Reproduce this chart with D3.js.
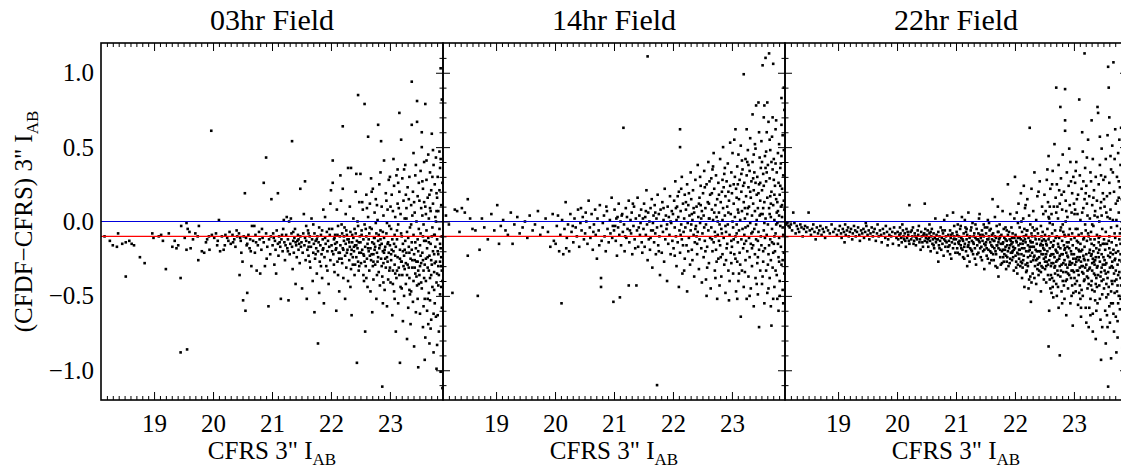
<!DOCTYPE html>
<html>
  <head>
    <meta charset="utf-8">
    <title>CFDF - CFRS 3" photometry</title>
    <style>
    body {
        margin: 0px;
        overflow: hidden;
        background: white;
    }

    text {
        font-family: 'Liberation Serif', 'Times New Roman', Times, serif;
        fill: black;
    }

    .tick text {
        font-size: 25px;
    }

    .tick line {
        stroke: black;
        stroke-width: 1;
    }

    .axis-label {
        font-size: 25px;
    }

    .title {
        font-size: 30px;
    }
    </style>
    <script src="https://d3js.org/d3.v7.min.js"></script>
  </head>
  <body>

    <svg width="1121" height="471"></svg>

    <script>
        // panel titles and tick labels
        const fieldNames = ['03hr Field', '14hr Field', '22hr Field'];
        const xTickValues = [19, 20, 21, 22, 23];
        const yTickValues = [-1.0, -0.5, 0.0, 0.5, 1.0];
        const zeroLevel = 0.0;
        const offsetLevel = -0.1;

        // [CFRS 3" I_AB, CFDF - CFRS]
        const field03 = [
            [18.16,-0.10],[18.25,-0.13],[18.39,-0.08],[18.37,-0.17],[18.46,-0.15],[18.52,-0.14],[18.52,-0.37],[18.58,-0.13],[18.66,-0.16],[18.76,-0.24],[18.84,-0.28],[18.97,-0.08],[18.99,-0.11],[18.30,-0.16],[18.62,-0.15],
            [19.08,-0.10],[19.12,-0.09],[19.20,-0.32],[19.25,-0.08],[19.31,-0.17],[19.38,-0.18],[19.41,-0.16],[19.45,-0.38],[19.45,-0.88],[19.56,-0.86],[19.46,-0.03],[19.55,-0.01],[19.57,-0.05],[19.60,-0.07],[19.55,-0.19],[19.62,-0.18],[19.70,-0.08],[19.74,-0.10],[19.76,-0.03],[19.75,-0.26],[19.81,-0.20],[19.85,-0.21],[19.90,-0.12],[19.93,-0.10],[19.97,0.61],[19.98,-0.09],[19.88,-0.14],[19.66,-0.12],[19.52,-0.11],[19.35,-0.13],[19.15,-0.13],[19.94,-0.19],
            [20.02,-0.11],[20.05,-0.08],[20.08,-0.13],[20.10,0.01],[20.12,-0.20],[20.15,-0.10],[20.18,-0.19],[20.21,-0.09],[20.24,-0.11],[20.28,-0.07],[20.30,-0.15],[20.33,-0.09],[20.36,-0.12],[20.38,-0.17],[20.41,-0.10],[20.44,-0.08],[20.45,-0.36],[20.47,-0.13],[20.48,-0.21],[20.20,-0.16],[20.26,-0.13],[20.40,-0.06],[20.07,-0.16],[20.34,-0.14],[20.46,-0.11],
            [20.50,-0.27],[20.51,-0.53],[20.54,0.19],[20.55,-0.60],[20.58,-0.48],[20.52,-0.10],[20.56,-0.11],[20.58,-0.15],[20.60,-0.09],[20.62,-0.18],[20.63,-0.12],[20.65,-0.30],[20.66,-0.03],[20.68,-0.13],[20.70,-0.03],[20.71,-0.21],[20.72,-0.09],[20.74,-0.33],[20.76,-0.16],[20.78,-0.07],[20.79,-0.12],[20.80,-0.35],[20.82,-0.19],[20.84,-0.11],[20.86,0.26],[20.86,-0.14],[20.88,-0.30],[20.90,0.43],[20.90,-0.08],[20.92,-0.17],[20.94,-0.57],[20.95,-0.12],[20.97,-0.22],[20.98,-0.10],[20.99,0.15],[20.64,-0.20],[20.73,-0.14],[20.83,-0.05],[20.91,-0.25],[20.57,-0.16],
            [21.01,-0.16],[21.02,-0.08],[21.04,-0.29],[21.05,-0.13],[21.06,-0.19],[21.08,-0.06],[21.10,0.19],[21.10,-0.15],[21.11,-0.23],[21.12,-0.10],[21.14,-0.17],[21.15,-0.52],[21.16,-0.12],[21.18,-0.20],[21.19,-0.05],[21.20,0.01],[21.21,-0.14],[21.22,-0.26],[21.24,-0.09],[21.25,0.03],[21.26,-0.18],[21.27,-0.12],[21.28,-0.53],[21.29,0.00],[21.30,-0.22],[21.31,-0.15],[21.32,0.02],[21.33,-0.08],[21.34,0.54],[21.34,-0.17],[21.35,-0.32],[21.36,-0.13],[21.37,-0.21],[21.38,-0.11],[21.39,-0.05],[21.40,-0.42],[21.41,-0.16],[21.42,-0.24],[21.43,-0.13],[21.44,-0.09],[21.45,-0.19],[21.46,-0.15],[21.47,-0.28],[21.48,0.22],[21.48,-0.10],[21.49,-0.17],[21.03,-0.11],[21.13,-0.14],[21.17,-0.09],[21.23,-0.16],[21.27,-0.20],[21.36,-0.07],[21.40,-0.14],[21.45,-0.12],[21.07,-0.35],
            [21.50,-0.14],[21.51,-0.45],[21.52,-0.21],[21.53,-0.08],[21.54,0.05],[21.55,-0.16],[21.56,0.27],[21.56,-0.11],[21.57,-0.26],[21.58,-0.13],[21.59,-0.52],[21.60,-0.19],[21.61,-0.06],[21.62,-0.23],[21.63,-0.14],[21.64,-0.10],[21.65,-0.31],[21.66,-0.17],[21.67,0.02],[21.68,-0.12],[21.69,-0.40],[21.70,-0.21],[21.71,-0.15],[21.72,-0.61],[21.72,-0.08],[21.73,-0.25],[21.74,-0.13],[21.75,-0.18],[21.76,-0.35],[21.77,-0.10],[21.78,-0.82],[21.78,-0.20],[21.79,-0.14],[21.80,-0.48],[21.80,-0.04],[21.81,-0.27],[21.82,-0.16],[21.83,-0.09],[21.84,-0.22],[21.85,-0.38],[21.86,-0.12],[21.87,0.08],[21.87,-0.18],[21.88,-0.55],[21.89,-0.24],[21.90,-0.11],[21.91,-0.15],[21.92,-0.30],[21.93,-0.07],[21.94,-0.20],[21.95,-0.13],[21.96,-0.42],[21.97,-0.17],[21.98,-0.09],[21.99,-0.26],[21.99,0.12],[21.58,-0.03],[21.64,-0.27],[21.70,-0.02],[21.76,-0.12],[21.83,-0.30],[21.90,0.03],[21.94,-0.33],[21.62,-0.17],[21.85,-0.06],
            [22.00,0.21],[22.01,-0.16],[22.02,-0.05],[22.03,0.41],[22.03,0.26],[22.04,-0.22],[22.05,-0.12],[22.06,-0.34],[22.07,-0.09],[22.08,-0.19],[22.09,-0.60],[22.10,0.08],[22.10,-0.14],[22.11,-0.27],[22.12,-0.03],[22.13,-0.21],[22.14,-0.47],[22.15,-0.10],[22.16,-0.16],[22.17,0.14],[22.18,-0.25],[22.19,-0.08],[22.20,0.22],[22.20,-0.18],[22.21,-0.38],[22.22,-0.13],[22.23,-0.04],[22.24,-0.23],[22.25,-0.15],[22.26,-0.31],[22.20,0.64],[22.27,-0.09],[22.28,-0.19],[22.29,0.36],[22.30,-0.12],[22.31,-0.26],[22.32,0.10],[22.32,-0.17],[22.33,-0.07],[22.34,0.36],[22.34,-0.22],[22.35,-0.63],[22.36,-0.14],[22.37,-0.29],[22.38,0.02],[22.38,-0.11],[22.39,-0.20],[22.40,-0.36],[22.41,-0.16],[22.42,0.20],[22.42,-0.08],[22.43,-0.24],[22.44,-0.95],[22.44,-0.13],[22.45,-0.18],[22.46,-0.03],[22.47,-0.33],[22.48,0.13],[22.48,-0.21],[22.49,-0.10],[22.05,-0.29],[22.09,-0.18],[22.15,-0.21],[22.22,-0.10],[22.25,0.05],[22.29,-0.40],[22.35,-0.19],[22.40,-0.05],[22.46,-0.27],[22.12,-0.36],[22.18,-0.02],[22.31,-0.14],[22.37,-0.24],[22.43,-0.16],[22.06,-0.11],[22.24,-0.52],[22.33,-0.44],[22.16,0.31],[22.28,-0.12],[22.45,0.00],[22.43,0.32],
            [22.50,-0.14],[22.50,0.32],[22.51,-0.28],[22.52,-0.06],[22.53,-0.19],[22.54,0.08],[22.55,-0.36],[22.55,-0.12],[22.56,-0.23],[22.57,0.79],[22.57,-0.02],[22.58,-0.74],[22.58,-0.17],[22.59,-0.30],[22.60,0.18],[22.60,-0.10],[22.61,-0.25],[22.62,-0.44],[22.62,-0.15],[22.63,0.57],[22.63,0.03],[22.64,-0.20],[22.65,-0.08],[22.65,-0.33],[22.66,0.12],[22.67,-0.18],[22.68,0.29],[22.68,-0.26],[22.69,-0.05],[22.70,-0.61],[22.70,-0.14],[22.71,0.22],[22.72,-0.22],[22.72,-0.39],[22.73,-0.11],[22.74,0.06],[22.75,-0.17],[22.75,-0.29],[22.76,0.15],[22.77,-0.08],[22.77,-0.52],[22.78,-0.21],[22.79,0.01],[22.80,0.65],[22.80,-0.13],[22.81,-0.34],[22.82,0.25],[22.82,-0.18],[22.83,-0.43],[22.84,-0.06],[22.85,0.54],[22.85,-0.25],[22.86,0.10],[22.86,-0.15],[22.87,-1.11],[22.87,-0.37],[22.88,-0.20],[22.89,0.04],[22.89,-0.28],[22.90,0.41],[22.90,-0.11],[22.91,-0.46],[22.92,-0.17],[22.93,0.19],[22.93,-0.31],[22.94,-0.08],[22.95,-0.24],[22.95,-0.57],[22.96,0.08],[22.97,-0.14],[22.97,-0.39],[22.98,0.28],[22.98,-0.21],[22.99,-0.03],[22.99,-0.33],[22.53,0.13],[22.56,-0.40],[22.59,-0.05],[22.64,-0.12],[22.67,-0.47],[22.69,0.20],[22.71,-0.30],[22.74,-0.19],[22.76,-0.01],[22.79,-0.27],[22.81,-0.09],[22.83,-0.16],[22.84,0.33],[22.88,-0.55],[22.91,-0.19],[22.94,0.14],[22.96,-0.27],[22.52,-0.09],[22.61,0.09],[22.66,-0.23],[22.73,-0.15],[22.78,0.11],[22.88,-0.07],[22.92,-0.25],[22.46,0.85],
            [23.00,-0.16],[23.00,0.30],[23.01,-0.41],[23.02,-0.05],[23.02,-0.26],[23.03,0.18],[23.04,-0.12],[23.04,-0.63],[23.05,-0.33],[23.05,0.07],[23.06,-0.20],[23.07,-0.47],[23.07,0.24],[23.08,-0.09],[23.08,-0.29],[23.09,0.03],[23.10,-0.17],[23.10,-0.74],[23.11,0.31],[23.11,-0.38],[23.12,-0.12],[23.13,0.12],[23.13,-0.24],[23.14,-0.55],[23.14,-0.02],[23.15,-0.31],[23.16,0.73],[23.16,0.20],[23.17,-0.19],[23.17,-0.95],[23.18,-0.44],[23.18,0.05],[23.19,0.55],[23.19,-0.27],[23.20,-0.10],[23.21,0.29],[23.21,-0.36],[23.22,-0.67],[23.22,-0.15],[23.23,0.14],[23.24,-0.23],[23.24,-0.50],[23.25,0.02],[23.25,-0.32],[23.26,0.38],[23.26,-0.13],[23.27,-0.42],[23.28,0.09],[23.28,-0.21],[23.29,-0.79],[23.29,-0.07],[23.30,0.23],[23.30,-0.29],[23.31,-0.58],[23.32,0.15],[23.32,-0.17],[23.33,-0.38],[23.33,0.30],[23.34,-0.04],[23.35,-0.25],[23.35,-0.69],[23.36,0.11],[23.36,-0.47],[23.37,0.94],[23.37,0.65],[23.37,-0.14],[23.38,-0.31],[23.39,0.20],[23.39,-0.54],[23.40,0.46],[23.40,-0.09],[23.41,-0.22],[23.41,-0.84],[23.42,0.06],[23.43,-0.35],[23.43,0.31],[23.44,-0.18],[23.44,-0.61],[23.45,0.00],[23.45,-0.27],[23.46,0.67],[23.46,0.81],[23.46,-0.43],[23.47,0.17],[23.47,-0.12],[23.48,-0.98],[23.48,-0.33],[23.49,0.26],[23.49,-0.05],[23.03,-0.19],[23.06,0.42],[23.09,-0.35],[23.12,-0.06],[23.15,0.09],[23.20,-0.45],[23.23,-0.30],[23.27,0.18],[23.31,-0.11],[23.34,-0.49],[23.38,0.04],[23.42,-0.26],[23.44,0.38],[23.48,-0.20],[23.01,0.10],[23.08,-0.52],[23.14,0.26],[23.19,-0.08],[23.24,0.35],[23.29,-0.36],[23.33,-0.21],[23.36,-0.02],[23.40,-0.40],[23.43,-0.14],[23.47,-0.52],
            [23.50,-0.36],[23.50,0.14],[23.51,-0.16],[23.51,-0.62],[23.52,0.34],[23.52,-0.08],[23.53,-0.28],[23.54,0.60],[23.54,0.50],[23.54,-0.45],[23.55,0.04],[23.55,-0.21],[23.56,-0.71],[23.56,0.22],[23.57,-0.33],[23.57,-0.02],[23.58,0.40],[23.58,-0.13],[23.59,-0.93],[23.59,-0.52],[23.60,0.79],[23.60,0.10],[23.61,-0.25],[23.61,-0.40],[23.62,0.28],[23.62,-0.06],[23.63,-0.18],[23.63,-0.60],[23.64,0.16],[23.64,-0.31],[23.65,0.45],[23.65,-0.11],[23.66,-0.48],[23.66,0.02],[23.67,-0.23],[23.67,-0.82],[23.68,0.33],[23.68,-0.38],[23.69,0.07],[23.69,-0.15],[23.70,-0.66],[23.70,0.21],[23.71,-0.29],[23.71,0.59],[23.72,-0.04],[23.72,-0.44],[23.73,0.12],[23.73,-0.20],[23.74,-0.88],[23.74,0.38],[23.75,-0.34],[23.75,-0.09],[23.76,0.25],[23.76,-0.55],[23.77,-0.17],[23.77,0.03],[23.78,0.43],[23.78,-0.27],[23.79,-0.99],[23.79,-0.41],[23.80,0.16],[23.80,-0.12],[23.81,-0.63],[23.81,0.30],[23.82,-0.22],[23.82,0.07],[23.83,-0.36],[23.83,-0.74],[23.84,0.21],[23.84,-0.05],[23.85,-0.49],[23.85,0.36],[23.86,-0.18],[23.86,-1.01],[23.87,0.11],[23.87,-0.30],[23.88,0.82],[23.88,-0.58],[23.88,-0.10],[23.89,0.26],[23.89,-0.40],[23.52,-0.23],[23.55,0.27],[23.58,-0.38],[23.61,0.05],[23.64,-0.52],[23.67,0.18],[23.70,-0.26],[23.73,0.48],[23.76,-0.09],[23.79,0.19],[23.82,-0.30],[23.85,-0.15],[23.53,0.09],[23.57,-0.57],[23.62,0.41],[23.66,-0.14],[23.69,-0.72],[23.72,0.30],[23.75,-0.46],[23.78,0.00],[23.81,-0.20],[23.84,0.47],[23.87,-0.44],[23.89,-1.12],[23.60,-0.78],[23.65,-0.69],[23.74,-0.62],[23.80,-0.83],[23.86,1.03],[23.86,0.42],
            [21.62,-0.08],[21.74,-0.22],[21.86,-0.19],[21.97,-0.05],[22.07,-0.15],[22.14,-0.25],[22.21,-0.19],[22.27,-0.21],[22.36,-0.09],[22.41,-0.29],[22.47,-0.14],[22.51,-0.21],[22.57,-0.27],[22.63,-0.18],[22.69,-0.22],[22.74,-0.11],[22.80,-0.24],[22.86,-0.30],[22.90,-0.21],[22.96,-0.15],[23.02,-0.22],[23.07,-0.15],[23.12,-0.33],[23.17,-0.25],[23.22,-0.20],[23.27,-0.28],[23.32,-0.31],[23.37,-0.19],[23.42,-0.31],[23.47,-0.27],[23.53,-0.41],[23.59,-0.29],[23.64,-0.24],[23.70,-0.36],[23.76,-0.28],[23.82,-0.43],[23.87,-0.24],[23.56,-0.10],[23.68,-0.53],[23.78,-0.64],
            [22.02,-0.20],[22.11,-0.09],[22.19,-0.28],[22.26,-0.06],[22.34,-0.32],[22.39,-0.17],[22.48,-0.30],[22.55,-0.22],[22.60,-0.38],[22.66,-0.04],[22.72,-0.27],[22.78,-0.36],[22.84,-0.12],[22.89,-0.41],[22.95,-0.01],[23.00,-0.31],[23.05,-0.42],[23.09,-0.23],[23.13,0.35],[23.16,-0.36],[23.20,-0.27],[23.25,-0.19],[23.28,0.02],[23.33,-0.46],[23.38,-0.26],[23.41,0.13],[23.45,-0.37],[23.49,-0.42],[23.51,-0.30],[23.56,-0.26],[23.61,-0.13],[23.66,-0.33],[23.71,-0.10],[23.75,-0.22],[23.80,-0.35],[23.85,-0.27],[23.88,-0.33],[23.58,0.13],[23.68,0.09],[23.79,0.07]
        ];

        const field14 = [
            [18.15,0.04],[18.20,-0.02],[18.26,-0.48],[18.30,0.08],[18.34,0.07],[18.38,-0.07],[18.42,0.09],[18.47,0.06],[18.52,-0.23],[18.52,0.15],[18.56,0.02],[18.60,-0.05],[18.65,-0.06],[18.69,-0.50],[18.72,-0.19],[18.76,0.02],[18.80,-0.04],[18.86,-0.12],[18.92,0.05],[18.97,-0.06],
            [19.02,0.11],[19.05,-0.15],[19.08,-0.03],[19.12,0.01],[19.16,-0.06],[19.20,-0.09],[19.25,0.06],[19.28,-0.15],[19.31,-0.02],[19.36,0.03],[19.40,-0.08],[19.45,-0.04],[19.49,0.00],[19.53,-0.11],[19.57,0.04],[19.62,-0.06],[19.66,-0.02],[19.71,0.07],[19.75,-0.09],[19.79,-0.04],[19.84,0.02],[19.88,-0.07],[19.92,-0.17],[19.96,0.05],[19.98,-0.13],
            [20.01,-0.15],[20.03,-0.03],[20.05,0.04],[20.07,-0.20],[20.09,-0.09],[20.11,-0.55],[20.12,0.01],[20.14,-0.22],[20.16,-0.05],[20.18,0.13],[20.20,-0.11],[20.22,-0.02],[20.24,-0.20],[20.26,0.05],[20.28,-0.07],[20.31,-0.14],[20.33,0.02],[20.35,-0.04],[20.37,-0.10],[20.39,0.08],[20.41,-0.17],[20.43,-0.01],[20.45,-0.06],[20.47,0.03],[20.49,-0.12],[20.19,-0.18],[20.30,-0.03],[20.44,0.09],
            [20.51,-0.08],[20.53,0.00],[20.55,-0.15],[20.57,0.14],[20.59,-0.04],[20.60,-0.11],[20.62,0.05],[20.64,-0.19],[20.66,-0.02],[20.68,0.08],[20.69,-0.09],[20.71,-0.25],[20.72,0.02],[20.74,-0.06],[20.76,0.11],[20.78,-0.38],[20.78,-0.44],[20.79,-0.13],[20.81,-0.01],[20.83,0.04],[20.84,-0.10],[20.86,-0.20],[20.88,0.07],[20.89,-0.05],[20.91,-0.14],[20.93,0.01],[20.94,-0.08],[20.96,0.16],[20.98,-0.03],[20.99,-0.54],[20.52,0.06],[20.65,-0.07],[20.75,-0.16],[20.87,0.10],[20.97,-0.11],
            [21.00,-0.06],[21.01,0.08],[21.03,-0.13],[21.04,0.02],[21.05,-0.23],[21.07,-0.04],[21.08,0.12],[21.09,-0.09],[21.10,-0.51],[21.11,0.00],[21.12,-0.16],[21.14,0.05],[21.15,-0.07],[21.16,0.63],[21.17,-0.02],[21.18,-0.20],[21.20,0.09],[21.21,-0.11],[21.22,0.03],[21.23,-0.05],[21.25,-0.43],[21.25,0.14],[21.26,-0.14],[21.28,0.01],[21.29,-0.08],[21.30,0.06],[21.31,-0.22],[21.33,-0.03],[21.34,0.10],[21.35,-0.12],[21.37,0.02],[21.38,-0.43],[21.39,-0.06],[21.40,0.16],[21.41,-0.17],[21.43,0.04],[21.44,-0.09],[21.45,-0.01],[21.46,0.08],[21.47,-0.14],[21.49,0.02],[21.02,-0.03],[21.13,0.04],[21.19,-0.10],[21.27,-0.06],[21.32,0.12],[21.36,-0.18],[21.42,-0.04],[21.48,-0.21],[21.06,0.03],
            [21.50,-0.05],[21.51,0.12],[21.52,-0.17],[21.53,0.03],[21.54,-0.09],[21.55,0.21],[21.56,-0.02],[21.57,1.11],[21.57,-0.26],[21.58,0.06],[21.59,-0.12],[21.60,0.00],[21.61,-0.19],[21.62,0.09],[21.63,-0.06],[21.64,0.15],[21.65,-0.31],[21.66,-0.01],[21.67,0.04],[21.68,-0.14],[21.69,0.11],[21.70,-0.08],[21.71,-0.22],[21.72,0.02],[21.73,-1.10],[21.73,-0.04],[21.74,0.18],[21.75,-0.16],[21.76,0.05],[21.77,-0.10],[21.78,-0.36],[21.79,0.08],[21.80,-0.03],[21.81,-0.21],[21.82,0.13],[21.83,-0.07],[21.84,0.01],[21.85,-0.27],[21.86,0.22],[21.87,-0.12],[21.88,0.04],[21.89,-0.05],[21.90,-0.40],[21.91,0.10],[21.92,-0.15],[21.93,0.03],[21.94,-0.09],[21.95,0.17],[21.96,-0.22],[21.97,-0.01],[21.98,0.07],[21.99,-0.13],[21.54,0.07],[21.62,-0.11],[21.70,0.06],[21.76,-0.20],[21.84,0.09],[21.90,-0.02],[21.96,0.00],[21.66,-0.06],
            [22.00,0.05],[22.01,-0.18],[22.02,0.14],[22.03,-0.04],[22.04,0.27],[22.05,-0.10],[22.06,-0.30],[22.06,0.01],[22.07,0.10],[22.08,-0.14],[22.09,0.03],[22.10,-0.44],[22.10,0.20],[22.11,-0.06],[22.12,0.62],[22.12,0.50],[22.12,-0.21],[22.13,0.07],[22.14,-0.02],[22.15,0.30],[22.15,-0.12],[22.16,-0.35],[22.17,0.12],[22.18,-0.07],[22.19,0.02],[22.20,-0.25],[22.20,0.18],[22.21,-0.04],[22.22,0.08],[22.23,-0.16],[22.24,0.25],[22.24,-0.47],[22.25,-0.01],[22.26,0.11],[22.27,-0.11],[22.28,0.04],[22.29,-0.29],[22.30,0.33],[22.30,-0.06],[22.31,0.15],[22.32,-0.19],[22.33,0.01],[22.34,0.21],[22.35,-0.09],[22.36,-0.37],[22.36,0.06],[22.37,-0.14],[22.38,0.28],[22.39,-0.03],[22.40,0.10],[22.41,-0.22],[22.42,0.38],[22.42,-0.07],[22.43,0.03],[22.44,-0.32],[22.45,0.16],[22.45,-0.12],[22.46,-0.01],[22.47,0.24],[22.48,-0.18],[22.49,0.07],[22.49,-0.41],[22.03,-0.23],[22.08,0.17],[22.13,-0.09],[22.17,-0.16],[22.22,0.13],[22.26,-0.20],[22.31,-0.02],[22.35,0.09],[22.40,-0.10],[22.44,0.12],[22.48,0.02],[22.05,0.09],[22.19,-0.33],[22.27,0.19],[22.33,-0.26],[22.38,-0.05],[22.46,0.30],[22.14,0.22],
            [22.50,-0.08],[22.51,0.19],[22.52,-0.24],[22.52,0.04],[22.53,0.34],[22.54,-0.13],[22.55,0.09],[22.56,-0.39],[22.56,-0.02],[22.57,0.25],[22.58,-0.17],[22.59,0.13],[22.60,-0.06],[22.60,0.40],[22.61,-0.28],[22.62,0.02],[22.63,0.18],[22.63,-0.11],[22.64,-0.45],[22.65,0.29],[22.65,-0.04],[22.66,0.08],[22.67,-0.20],[22.68,0.37],[22.68,0.01],[22.69,-0.14],[22.70,0.22],[22.71,-0.33],[22.71,-0.07],[22.72,0.11],[22.73,0.31],[22.73,-0.19],[22.74,0.03],[22.75,-0.52],[22.75,0.15],[22.76,-0.09],[22.77,0.26],[22.77,-0.25],[22.78,0.06],[22.79,-0.02],[22.80,0.42],[22.80,-0.16],[22.81,0.13],[22.82,-0.37],[22.82,-0.05],[22.83,0.20],[22.84,0.01],[22.84,-0.22],[22.85,0.50],[22.85,0.09],[22.86,-0.11],[22.87,0.32],[22.87,-0.29],[22.88,0.04],[22.89,0.17],[22.89,-0.48],[22.90,-0.07],[22.91,0.27],[22.91,-0.18],[22.92,0.10],[22.93,-0.02],[22.93,0.39],[22.94,-0.33],[22.95,0.14],[22.95,-0.53],[22.96,-0.09],[22.97,0.24],[22.97,0.53],[22.98,-0.21],[22.98,0.05],[22.99,0.33],[22.99,-0.13],[22.54,0.23],[22.58,-0.31],[22.62,0.27],[22.66,-0.12],[22.70,0.06],[22.74,-0.27],[22.78,0.18],[22.83,-0.08],[22.86,0.23],[22.90,-0.26],[22.94,0.06],[22.96,-0.40],[22.53,-0.04],[22.61,0.12],[22.67,0.35],[22.72,-0.38],[22.76,0.00],[22.81,-0.24],[22.88,0.36],[22.92,-0.15],[22.57,-0.50],[22.69,0.46],[22.79,-0.43],
            [23.00,0.19],[23.00,-0.17],[23.01,0.46],[23.02,-0.04],[23.02,-0.35],[23.03,0.12],[23.04,0.55],[23.04,-0.22],[23.05,0.03],[23.05,0.30],[23.06,0.62],[23.06,-0.10],[23.07,-0.47],[23.07,0.22],[23.08,-0.02],[23.09,0.37],[23.09,-0.27],[23.10,0.08],[23.10,-0.14],[23.11,0.45],[23.11,-0.40],[23.12,0.15],[23.12,-0.06],[23.13,0.28],[23.13,-0.21],[23.14,0.01],[23.15,-0.64],[23.15,0.51],[23.16,-0.12],[23.16,0.20],[23.17,-0.33],[23.17,0.07],[23.18,0.35],[23.18,-0.05],[23.19,-0.18],[23.20,0.99],[23.20,0.13],[23.20,-0.44],[23.21,0.26],[23.21,-0.09],[23.22,0.02],[23.23,0.42],[23.23,-0.26],[23.24,0.17],[23.24,-0.13],[23.25,-0.52],[23.25,0.31],[23.26,0.05],[23.26,-0.20],[23.27,0.48],[23.27,-0.03],[23.28,0.23],[23.28,-0.37],[23.29,0.10],[23.29,-0.11],[23.30,0.34],[23.30,-0.24],[23.31,-0.01],[23.31,0.56],[23.32,0.16],[23.32,-0.45],[23.33,-0.08],[23.33,0.27],[23.34,0.04],[23.34,-0.30],[23.35,0.72],[23.35,0.40],[23.36,-0.16],[23.36,0.12],[23.37,-0.57],[23.37,0.21],[23.38,-0.05],[23.38,0.33],[23.39,-0.22],[23.39,0.07],[23.40,0.49],[23.40,-0.38],[23.41,0.78],[23.41,-0.12],[23.42,0.18],[23.42,0.01],[23.43,-0.28],[23.43,0.30],[23.44,0.09],[23.44,-0.49],[23.45,0.80],[23.45,-0.07],[23.46,0.25],[23.46,-0.71],[23.46,-0.19],[23.47,0.43],[23.47,0.04],[23.48,-0.33],[23.48,0.14],[23.49,0.36],[23.49,-0.10],[23.03,-0.12],[23.08,0.16],[23.14,-0.29],[23.19,0.24],[23.22,-0.34],[23.27,0.09],[23.32,-0.15],[23.36,0.29],[23.41,-0.02],[23.45,0.19],[23.01,0.00],[23.06,-0.25],[23.11,0.06],[23.17,0.41],[23.23,-0.04],[23.28,0.38],[23.34,-0.18],[23.39,0.52],[23.44,-0.13],[23.48,0.26],[23.09,-0.52],[23.30,-0.50],[23.42,-0.42],[23.25,0.62],
            [23.50,0.54],[23.50,-0.16],[23.51,0.21],[23.51,-0.42],[23.52,0.05],[23.52,1.05],[23.53,0.32],[23.53,-0.27],[23.54,-0.06],[23.54,0.70],[23.55,0.13],[23.55,-0.55],[23.56,0.44],[23.56,-0.18],[23.57,1.10],[23.57,0.02],[23.58,0.27],[23.58,-0.33],[23.59,0.60],[23.59,-0.09],[23.60,0.16],[23.60,-0.48],[23.61,0.38],[23.61,-0.02],[23.62,0.67],[23.62,-0.22],[23.63,1.13],[23.63,0.09],[23.64,-0.38],[23.64,0.29],[23.65,-0.12],[23.65,0.48],[23.66,0.03],[23.66,-0.26],[23.67,0.20],[23.67,-0.70],[23.68,0.57],[23.68,-0.05],[23.69,0.35],[23.69,-0.31],[23.70,1.06],[23.70,0.11],[23.71,-0.15],[23.71,0.42],[23.72,-0.44],[23.72,0.01],[23.73,0.24],[23.73,-0.20],[23.74,0.62],[23.74,-0.08],[23.75,0.68],[23.75,0.15],[23.76,-0.36],[23.76,0.33],[23.77,-0.01],[23.77,-0.52],[23.78,0.46],[23.78,0.07],[23.79,-0.24],[23.79,0.26],[23.80,-0.11],[23.80,0.52],[23.81,0.18],[23.81,-0.40],[23.82,-0.03],[23.82,0.36],[23.83,-0.17],[23.83,0.10],[23.84,0.44],[23.84,-0.29],[23.85,0.03],[23.85,0.22],[23.86,-0.46],[23.86,0.58],[23.87,-0.09],[23.87,0.31],[23.88,0.14],[23.88,-0.21],[23.89,0.75],[23.89,-0.35],[23.53,0.09],[23.56,-0.11],[23.59,0.33],[23.62,-0.45],[23.65,0.17],[23.68,-0.14],[23.71,0.28],[23.74,-0.33],[23.77,0.13],[23.80,-0.27],[23.83,0.39],[23.86,-0.04],[23.52,-0.37],[23.58,0.47],[23.63,-0.16],[23.67,0.40],[23.72,-0.10],[23.76,0.06],[23.81,-0.50],[23.85,0.11],[23.60,0.80],[23.55,0.78],[23.66,-0.57],[23.79,-0.60],[23.88,0.90],[23.70,-0.52],[23.54,0.24],[23.64,0.05],[23.75,-0.02],[23.87,-0.55],[23.84,0.83],
            [22.32,0.05],[22.41,-0.15],[22.47,0.11],[22.55,-0.20],[22.61,0.02],[22.66,0.19],[22.72,-0.10],[22.78,-0.13],[22.84,0.28],[22.89,-0.03],[22.94,0.20],[22.99,-0.28],[23.03,0.25],[23.08,-0.08],[23.12,-0.35],[23.16,0.32],[23.21,-0.15],[23.26,0.40],[23.31,0.20],[23.35,-0.07],[23.40,0.26],[23.44,-0.24],[23.49,0.05],[23.53,-0.20],[23.57,0.36],[23.61,-0.29],[23.66,0.12],[23.70,-0.21],[23.74,0.39],[23.78,-0.15],[23.82,0.24],[23.86,-0.26],[23.89,0.08],[23.55,-0.01],[23.64,0.55],[23.72,0.18],[23.80,0.04],[23.88,0.48],[23.10,0.25],[23.22,0.09],[23.37,0.45],[23.46,0.60],[23.51,0.40],[23.69,0.70],[23.84,0.65]
        ];

        const field22 = [
            [18.12,-0.02],[18.14,-0.01],[18.16,-0.03],[18.18,-0.04],[18.20,-0.02],[18.22,-0.06],[18.24,0.06],[18.26,-0.01],[18.28,-0.08],[18.30,-0.03],[18.32,-0.05],[18.34,-0.07],[18.36,-0.02],[18.38,-0.04],[18.40,-0.10],[18.42,-0.05],[18.44,-0.03],[18.46,-0.07],[18.48,-0.04],[18.50,0.06],[18.52,-0.06],[18.54,-0.09],[18.56,-0.05],[18.58,-0.02],[18.60,-0.07],[18.62,-0.12],[18.64,-0.04],[18.66,-0.08],[18.68,-0.06],[18.70,-0.03],[18.72,-0.09],[18.74,-0.05],[18.76,-0.07],[18.78,-0.11],[18.80,-0.04],[18.83,-0.06],[18.86,-0.08],[18.89,-0.02],[18.92,-0.07],[18.95,-0.05],[18.98,-0.09],
            [19.01,-0.06],[19.03,-0.03],[19.05,-0.08],[19.06,-0.11],[19.08,-0.05],[19.10,-0.07],[19.12,-0.02],[19.13,-0.09],[19.15,-0.06],[19.17,-0.04],[19.18,-0.10],[19.20,-0.07],[19.22,-0.05],[19.24,-0.12],[19.25,-0.08],[19.27,-0.03],[19.29,-0.06],[19.30,-0.10],[19.32,-0.07],[19.34,-0.04],[19.36,-0.09],[19.37,-0.13],[19.39,-0.06],[19.41,-0.08],[19.43,-0.05],[19.44,-0.11],[19.46,-0.07],[19.48,-0.03],[19.50,-0.09],[19.52,-0.06],[19.53,-0.12],[19.55,-0.08],[19.57,-0.04],[19.59,-0.10],[19.60,-0.07],[19.62,-0.05],[19.64,-0.13],[19.66,-0.08],[19.67,-0.02],[19.69,-0.10],[19.71,-0.06],[19.73,-0.09],[19.74,-0.14],[19.76,-0.05],[19.78,-0.08],[19.80,-0.11],[19.81,-0.03],[19.83,-0.07],[19.85,-0.12],[19.87,-0.09],[19.88,-0.05],[19.90,-0.10],[19.92,-0.07],[19.93,-0.15],[19.95,-0.04],[19.97,-0.08],[19.99,-0.11],[19.11,-0.14],[19.47,-0.01],[19.84,-0.16],
            [20.01,-0.07],[20.02,-0.12],[20.04,-0.09],[20.05,-0.04],[20.07,-0.11],[20.08,-0.14],[20.10,-0.06],[20.11,-0.10],[20.13,-0.08],[20.14,-0.13],[20.16,-0.05],[20.17,-0.11],[20.19,-0.09],[20.21,0.11],[20.21,-0.15],[20.23,-0.07],[20.24,-0.12],[20.26,-0.10],[20.27,-0.04],[20.29,-0.13],[20.30,-0.08],[20.32,-0.16],[20.33,-0.11],[20.35,-0.06],[20.36,-0.09],[20.38,-0.14],[20.39,-0.12],[20.41,-0.07],[20.42,-0.10],[20.44,-0.17],[20.45,-0.09],[20.47,-0.13],[20.48,-0.05],[20.49,-0.11],[20.03,-0.16],[20.09,-0.02],[20.15,-0.17],[20.20,-0.13],[20.25,-0.06],[20.31,-0.10],[20.37,-0.03],[20.43,-0.14],[20.46,-0.08],[20.06,-0.08],[20.12,-0.12],[20.18,-0.07],[20.28,-0.15],[20.34,-0.12],[20.40,-0.19],[20.47,0.12],
            [20.50,-0.09],[20.51,-0.14],[20.52,-0.06],[20.53,-0.17],[20.54,-0.11],[20.55,-0.08],[20.56,-0.13],[20.57,-0.20],[20.58,-0.10],[20.59,-0.05],[20.60,-0.15],[20.61,-0.12],[20.62,-0.08],[20.63,-0.18],[20.64,-0.11],[20.65,0.02],[20.66,-0.14],[20.67,-0.09],[20.68,-0.21],[20.69,-0.12],[20.70,-0.07],[20.71,-0.16],[20.72,-0.10],[20.73,-0.13],[20.74,-0.04],[20.75,-0.19],[20.76,-0.11],[20.77,-0.15],[20.78,-0.08],[20.79,-0.23],[20.80,-0.12],[20.81,-0.06],[20.82,-0.17],[20.83,-0.10],[20.84,-0.14],[20.85,0.04],[20.86,-0.20],[20.87,-0.09],[20.88,-0.13],[20.89,-0.16],[20.90,-0.06],[20.91,-0.11],[20.92,-0.25],[20.93,-0.14],[20.94,-0.08],[20.95,-0.18],[20.96,-0.12],[20.97,-0.03],[20.98,-0.15],[20.99,-0.21],[20.52,-0.12],[20.57,-0.07],[20.62,-0.16],[20.67,-0.12],[20.72,-0.18],[20.77,-0.06],[20.82,-0.13],[20.87,-0.17],[20.92,-0.09],[20.97,-0.10],[20.55,-0.02],[20.70,-0.27],[20.80,0.01],[20.90,-0.22],[20.95,0.06],
            [21.00,-0.12],[21.01,-0.07],[21.02,-0.18],[21.03,-0.02],[21.04,-0.14],[21.05,-0.10],[21.06,-0.22],[21.07,-0.05],[21.08,-0.16],[21.09,-0.11],[21.10,0.03],[21.11,-0.19],[21.12,-0.13],[21.13,-0.08],[21.14,-0.25],[21.15,-0.15],[21.16,-0.04],[21.17,-0.20],[21.18,-0.12],[21.19,-0.09],[21.20,-0.17],[21.21,0.06],[21.22,-0.14],[21.23,-0.27],[21.24,-0.10],[21.25,-0.06],[21.26,-0.19],[21.27,-0.13],[21.28,-0.01],[21.29,-0.22],[21.30,-0.15],[21.31,-0.08],[21.32,-0.18],[21.33,-0.11],[21.34,-0.29],[21.35,-0.05],[21.36,-0.16],[21.37,-0.12],[21.38,-0.21],[21.39,0.02],[21.40,-0.14],[21.41,-0.09],[21.42,-0.24],[21.43,-0.17],[21.44,-0.06],[21.45,-0.13],[21.46,-0.20],[21.47,-0.10],[21.48,-0.32],[21.48,-0.15],[21.49,-0.04],[21.02,-0.09],[21.05,-0.15],[21.08,-0.03],[21.11,-0.12],[21.14,-0.17],[21.17,-0.07],[21.20,-0.23],[21.23,-0.11],[21.26,-0.04],[21.29,-0.14],[21.32,-0.25],[21.35,-0.12],[21.38,-0.08],[21.41,-0.18],[21.44,-0.26],[21.47,-0.02],[21.03,-0.21],[21.09,-0.18],[21.15,0.01],[21.21,-0.16],[21.27,-0.20],[21.33,-0.02],[21.39,-0.13],[21.45,-0.09],[21.06,-0.13],[21.12,-0.24],[21.18,-0.05],[21.24,-0.18],[21.30,-0.10],[21.36,-0.22],[21.42,-0.11],[21.48,-0.19],[21.19,-0.30],[21.40,0.05],
            [21.50,-0.16],[21.51,-0.08],[21.52,-0.23],[21.53,-0.12],[21.54,0.01],[21.55,-0.19],[21.56,-0.10],[21.57,-0.28],[21.58,-0.14],[21.59,-0.05],[21.60,-0.21],[21.61,-0.12],[21.62,0.15],[21.62,-0.17],[21.63,-0.08],[21.64,-0.26],[21.65,-0.13],[21.66,0.03],[21.67,-0.20],[21.68,-0.11],[21.69,-0.16],[21.70,-0.31],[21.71,-0.07],[21.72,-0.37],[21.72,-0.18],[21.73,-0.12],[21.74,-0.02],[21.75,-0.24],[21.76,-0.15],[21.77,-0.09],[21.78,-0.20],[21.79,0.07],[21.80,-0.14],[21.81,-0.27],[21.82,-0.11],[21.83,-0.19],[21.84,-0.04],[21.85,-0.23],[21.86,-0.13],[21.87,-0.16],[21.88,0.25],[21.88,-0.09],[21.89,-0.30],[21.90,-0.18],[21.91,-0.12],[21.92,0.05],[21.93,-0.21],[21.94,-0.15],[21.95,-0.26],[21.96,-0.08],[21.97,-0.17],[21.98,-0.33],[21.99,-0.11],[21.51,-0.14],[21.54,-0.25],[21.57,-0.06],[21.60,-0.16],[21.63,-0.22],[21.66,-0.10],[21.69,-0.03],[21.72,-0.14],[21.75,-0.19],[21.78,-0.28],[21.81,-0.05],[21.84,-0.17],[21.87,-0.24],[21.90,-0.07],[21.93,-0.13],[21.96,-0.20],[21.99,0.02],[21.52,-0.18],[21.56,-0.01],[21.60,-0.26],[21.64,-0.13],[21.68,-0.22],[21.72,-0.07],[21.76,-0.29],[21.80,-0.19],[21.84,-0.12],[21.88,-0.20],[21.92,-0.25],[21.96,-0.14],[21.55,-0.12],[21.65,-0.18],[21.75,-0.10],[21.85,-0.32],[21.95,-0.11],[21.58,-0.20],[21.70,-0.16],[21.82,-0.22],[21.94,-0.04],[21.67,-0.30],[21.79,-0.15],[21.91,-0.28],[21.53,-0.04],[21.74,-0.11],[21.86,-0.06],[21.98,-0.19],[21.71,0.10],[21.61,-0.09],
            [22.00,-0.18],[22.00,0.30],[22.01,-0.09],[22.02,-0.27],[22.02,-0.13],[22.03,0.06],[22.04,-0.21],[22.04,-0.35],[22.05,-0.11],[22.06,-0.16],[22.06,0.12],[22.07,-0.25],[22.08,-0.04],[22.08,-0.19],[22.09,-0.30],[22.10,-0.12],[22.10,0.19],[22.11,-0.22],[22.12,-0.07],[22.12,-0.38],[22.13,-0.15],[22.14,0.02],[22.14,-0.26],[22.15,-0.10],[22.16,-0.18],[22.16,-0.44],[22.17,0.09],[22.18,-0.14],[22.18,-0.29],[22.19,-0.20],[22.20,-0.06],[22.20,-0.33],[22.21,0.15],[22.22,-0.16],[22.22,-0.24],[22.23,-0.11],[22.24,-0.39],[22.24,0.04],[22.25,-0.19],[22.25,0.63],[22.26,-0.13],[22.27,-0.54],[22.27,-0.27],[22.28,0.22],[22.28,-0.08],[22.29,-0.21],[22.30,-0.35],[22.30,-0.14],[22.31,0.07],[22.32,-0.24],[22.32,-0.17],[22.33,0.33],[22.34,-0.10],[22.34,-0.30],[22.35,-0.19],[22.36,0.01],[22.36,-0.42],[22.37,-0.15],[22.38,-0.25],[22.38,0.17],[22.39,-0.08],[22.40,-0.20],[22.40,-0.36],[22.41,-0.12],[22.42,0.27],[22.42,-0.28],[22.43,-0.16],[22.44,-0.03],[22.44,-0.47],[22.45,-0.22],[22.46,0.10],[22.46,-0.13],[22.47,-0.31],[22.48,-0.18],[22.48,0.05],[22.49,-0.25],[22.49,-0.39],[22.01,-0.23],[22.05,-0.01],[22.09,-0.15],[22.13,-0.31],[22.17,-0.12],[22.21,-0.28],[22.26,-0.02],[22.29,-0.17],[22.33,-0.23],[22.37,-0.05],[22.41,-0.33],[22.45,-0.10],[22.03,-0.14],[22.07,-0.19],[22.11,0.00],[22.15,-0.23],[22.19,-0.09],[22.23,-0.20],[22.27,-0.14],[22.31,-0.26],[22.35,-0.12],[22.39,-0.29],[22.43,-0.20],[22.47,-0.07],[22.05,-0.29],[22.15,0.24],[22.23,-0.45],[22.33,-0.06],[22.40,0.20],[22.47,-0.16],[22.08,-0.11],[22.18,0.11],[22.26,-0.37],[22.36,-0.26],[22.44,-0.15],[22.12,-0.18],[22.21,-0.06],[22.30,-0.04],[22.38,-0.32],[22.48,-0.22],[22.25,-0.17],[22.16,-0.05],
            [22.50,-0.19],[22.50,0.18],[22.51,-0.32],[22.51,-0.09],[22.52,-0.24],[22.52,0.07],[22.53,-0.41],[22.53,-0.15],[22.54,0.28],[22.54,-0.27],[22.55,-0.05],[22.55,-0.20],[22.56,-0.36],[22.56,0.13],[22.57,-0.12],[22.57,0.44],[22.57,-0.84],[22.58,-0.60],[22.58,-0.26],[22.59,-0.01],[22.59,-0.18],[22.60,-0.45],[22.60,0.22],[22.61,-0.14],[22.61,-0.30],[22.62,0.05],[22.62,-0.22],[22.63,-0.38],[22.63,-0.08],[22.64,0.34],[22.64,-0.17],[22.65,-0.28],[22.65,-0.51],[22.66,0.10],[22.66,-0.13],[22.67,-0.24],[22.67,0.52],[22.68,-0.35],[22.68,-0.06],[22.69,-0.19],[22.69,0.16],[22.70,0.90],[22.70,-0.42],[22.70,-0.27],[22.71,-0.10],[22.71,0.25],[22.72,-0.21],[22.72,-0.33],[22.73,0.02],[22.73,-0.15],[22.74,-0.58],[22.74,0.38],[22.75,-0.25],[22.75,-0.11],[22.76,-0.90],[22.76,0.12],[22.77,0.77],[22.77,-0.37],[22.77,-0.18],[22.78,-0.04],[22.78,0.29],[22.79,-0.29],[22.79,-0.47],[22.80,-0.13],[22.80,0.08],[22.81,-0.22],[22.81,0.45],[22.82,-0.34],[22.82,-0.07],[22.83,-0.16],[22.83,0.20],[22.84,-0.52],[22.84,-0.26],[22.85,0.89],[22.85,0.68],[22.85,0.61],[22.85,-0.10],[22.86,-0.40],[22.86,0.14],[22.87,-0.21],[22.87,-0.63],[22.88,0.33],[22.88,-0.14],[22.89,-0.31],[22.89,0.03],[22.90,-0.24],[22.90,-0.45],[22.91,0.24],[22.91,-0.09],[22.92,-0.18],[22.92,-0.36],[22.93,0.11],[22.93,-0.27],[22.94,0.40],[22.94,-0.55],[22.95,-0.12],[22.95,-0.20],[22.96,0.06],[22.96,-0.33],[22.97,-0.43],[22.97,0.19],[22.98,-0.16],[22.98,-0.70],[22.99,-0.25],[22.99,0.30],[22.52,-0.13],[22.55,0.35],[22.58,-0.10],[22.61,-0.36],[22.64,-0.02],[22.67,-0.31],[22.70,0.06],[22.73,-0.44],[22.76,-0.23],[22.79,0.18],[22.82,-0.28],[22.85,-0.18],[22.88,-0.39],[22.91,-0.14],[22.94,-0.29],[22.97,-0.08],[22.51,-0.27],[22.54,-0.16],[22.57,0.03],[22.60,-0.23],[22.63,0.25],[22.66,-0.40],[22.69,-0.11],[22.72,-0.26],[22.75,0.21],[22.78,-0.33],[22.81,-0.02],[22.84,-0.19],[22.87,0.07],[22.90,-0.35],[22.93,-0.05],[22.96,-0.22],[22.99,-0.48],[22.53,-0.30],[22.59,0.10],[22.65,-0.22],[22.71,-0.50],[22.77,-0.06],[22.83,-0.43],[22.89,-0.17],[22.95,0.27],[22.98,-0.33],[22.62,-0.48],[22.74,-0.17],[22.86,-0.29],[22.92,0.49],
            [23.00,-0.22],[23.00,0.12],[23.01,-0.38],[23.01,-0.11],[23.02,0.26],[23.02,-0.29],[23.03,-0.05],[23.03,-0.47],[23.04,-0.18],[23.04,0.40],[23.05,-0.33],[23.05,-0.13],[23.06,0.05],[23.06,-0.24],[23.07,-0.56],[23.07,0.18],[23.08,-0.09],[23.08,-0.36],[23.09,0.82],[23.09,-0.20],[23.10,0.31],[23.10,-0.43],[23.11,-0.15],[23.11,0.01],[23.12,-0.27],[23.12,-0.64],[23.13,0.22],[23.13,-0.08],[23.14,-0.34],[23.14,-0.19],[23.15,0.47],[23.15,-0.50],[23.16,-0.12],[23.16,0.09],[23.17,-0.25],[23.17,-0.40],[23.18,1.13],[23.18,0.15],[23.18,-0.17],[23.19,-0.31],[23.19,0.36],[23.20,-0.06],[23.20,-0.58],[23.21,-0.22],[23.21,0.24],[23.22,-0.37],[23.22,-0.13],[23.23,0.04],[23.23,-0.45],[23.24,-0.26],[23.24,0.55],[23.25,-0.10],[23.25,-0.71],[23.26,0.17],[23.26,-0.32],[23.27,-0.19],[23.27,0.02],[23.28,-0.52],[23.28,0.33],[23.29,-0.23],[23.29,-0.07],[23.30,0.68],[23.30,-0.40],[23.30,-0.15],[23.31,0.11],[23.31,-0.28],[23.32,-0.62],[23.32,0.42],[23.33,-0.20],[23.33,-0.03],[23.34,-0.35],[23.34,0.21],[23.35,-0.12],[23.35,-0.47],[23.36,0.07],[23.36,-0.26],[23.37,0.30],[23.37,-0.79],[23.38,-0.18],[23.38,-0.38],[23.39,0.14],[23.39,-0.09],[23.40,0.77],[23.40,-0.30],[23.40,-0.55],[23.41,0.73],[23.41,-0.21],[23.42,0.25],[23.42,-0.14],[23.43,-0.43],[23.43,0.00],[23.44,-0.27],[23.44,0.38],[23.45,-0.66],[23.45,-0.16],[23.46,-0.93],[23.46,0.13],[23.46,-0.34],[23.47,-0.22],[23.47,0.49],[23.48,-0.05],[23.48,-0.49],[23.49,0.19],[23.49,-0.29],[23.02,-0.42],[23.05,0.15],[23.08,-0.26],[23.11,-0.52],[23.14,0.06],[23.17,-0.11],[23.20,0.19],[23.23,-0.33],[23.26,-0.58],[23.29,0.27],[23.32,-0.25],[23.35,0.04],[23.38,-0.60],[23.41,-0.36],[23.44,-0.10],[23.47,-0.40],[23.01,0.05],[23.04,-0.27],[23.07,-0.14],[23.10,-0.31],[23.13,-0.46],[23.16,-0.23],[23.19,-0.02],[23.22,0.12],[23.25,-0.42],[23.28,-0.12],[23.31,-0.46],[23.34,-0.16],[23.37,-0.24],[23.40,0.03],[23.43,-0.19],[23.46,0.31],[23.49,-0.15],[23.03,0.34],[23.09,-0.48],[23.15,-0.30],[23.21,-0.68],[23.27,-0.31],[23.33,0.16],[23.39,-0.44],[23.45,0.09],[23.06,-0.05],[23.12,-0.20],[23.18,-0.39],[23.24,-0.08],[23.30,-0.22],[23.36,-0.53],[23.42,-0.11],[23.48,-0.71],[23.14,0.60],[23.22,0.43],[23.32,-0.74],[23.44,0.57],[23.07,-0.33],[23.35,-0.29],
            [23.50,-0.24],[23.50,0.28],[23.51,-0.45],[23.51,-0.12],[23.52,0.10],[23.52,-0.33],[23.53,-0.60],[23.53,-0.19],[23.54,0.42],[23.54,-0.07],[23.55,-0.28],[23.55,-0.51],[23.56,0.17],[23.56,-0.15],[23.57,-0.38],[23.57,0.03],[23.58,1.04],[23.58,-1.11],[23.58,-0.23],[23.59,0.90],[23.59,-0.44],[23.60,0.26],[23.60,-0.10],[23.61,-0.31],[23.61,-0.68],[23.62,0.08],[23.62,-0.21],[23.63,-0.92],[23.63,0.35],[23.64,-0.40],[23.64,-0.14],[23.65,0.51],[23.65,-0.27],[23.66,-0.55],[23.66,0.01],[23.67,1.07],[23.67,-0.19],[23.68,-0.35],[23.68,0.20],[23.69,-0.08],[23.69,-0.48],[23.70,0.62],[23.70,-0.25],[23.71,-0.64],[23.71,0.12],[23.72,-0.16],[23.72,-0.39],[23.73,0.30],[23.73,-0.03],[23.74,-0.29],[23.74,-0.78],[23.75,0.46],[23.75,-0.20],[23.76,-0.50],[23.76,0.06],[23.77,-0.12],[23.77,-0.34],[23.78,0.23],[23.78,-0.59],[23.79,-0.22],[23.79,0.38],[23.80,-0.05],[23.80,-0.43],[23.81,0.15],[23.81,-0.27],[23.82,-0.85],[23.82,0.52],[23.83,-0.17],[23.83,-0.36],[23.84,0.09],[23.84,-0.53],[23.85,-0.24],[23.85,0.32],[23.86,-0.09],[23.86,-0.66],[23.87,0.18],[23.87,-0.30],[23.88,-0.45],[23.88,0.03],[23.89,-0.18],[23.89,0.41],[23.52,-0.26],[23.55,0.06],[23.58,-0.49],[23.61,0.19],[23.64,-0.30],[23.67,-0.62],[23.70,-0.11],[23.73,-0.47],[23.76,0.27],[23.79,-0.38],[23.82,-0.14],[23.85,-0.60],[23.88,0.24],[23.51,0.15],[23.54,-0.35],[23.57,-0.71],[23.60,-0.18],[23.63,-0.04],[23.66,0.33],[23.69,-0.26],[23.72,0.01],[23.75,-0.36],[23.78,-0.08],[23.81,-0.50],[23.84,-0.31],[23.87,0.45],[23.53,0.30],[23.59,-0.13],[23.65,-0.42],[23.71,-0.33],[23.77,0.55],[23.83,0.10],[23.89,-0.70],[23.56,-0.63],[23.62,0.44],[23.68,-0.74],[23.74,0.14],[23.80,0.63],[23.86,-0.20],[23.57,0.58],[23.63,-0.55],[23.69,0.42],[23.75,-0.55],[23.60,0.70],[23.72,-0.88],[23.66,-0.22],[23.79,-0.15],[23.54,-0.82],
            [21.80,-0.24],[21.86,-0.27],[21.92,-0.16],[21.97,-0.24],[22.02,-0.31],[22.06,-0.22],[22.10,-0.27],[22.14,-0.13],[22.19,-0.34],[22.22,-0.30],[22.26,-0.23],[22.29,-0.10],[22.33,-0.38],[22.37,-0.20],[22.41,-0.24],[22.45,-0.30],[22.49,-0.12],[22.53,-0.22],[22.56,-0.29],[22.59,-0.39],[22.62,-0.28],[22.65,-0.16],[22.68,-0.30],[22.70,-0.20],[22.73,-0.36],[22.76,-0.30],[22.79,-0.22],[22.81,-0.40],[22.84,-0.09],[22.87,-0.34],[22.89,-0.23],[22.92,-0.29],[22.95,-0.38],[22.97,-0.28],[23.00,-0.34],[23.03,-0.25],[23.05,-0.40],[23.08,-0.19],[23.10,-0.24],[23.13,-0.30],[23.16,-0.35],[23.18,-0.26],[23.21,-0.29],[23.24,-0.38],[23.26,-0.21],[23.29,-0.43],[23.31,-0.33],[23.34,-0.27],[23.37,-0.42],[23.39,-0.31],[23.42,-0.24],[23.45,-0.37],[23.47,-0.31],[23.50,-0.39],[23.53,-0.29],[23.55,-0.42],[23.58,-0.34],[23.61,-0.24],[23.63,-0.47],[23.66,-0.31],[23.69,-0.40],[23.71,-0.21],[23.74,-0.43],[23.77,-0.26],[23.79,-0.52],[23.82,-0.33],[23.84,-0.41],[22.58,0.02],[22.72,0.10],[22.86,0.00],[23.02,0.08],[23.16,0.27],[23.31,-0.02],[23.47,0.04],[23.61,0.02],[23.76,0.16],[22.64,-0.44],[22.80,-0.55],[22.96,-0.50],[23.12,-0.58],[23.28,-0.63],[23.44,-0.52],[23.60,-0.57],[23.74,-0.67],[22.44,-0.34],[22.28,-0.41],[22.12,-0.28],[21.95,-0.21],[23.36,-0.36],[23.52,-0.15]
        ];

        const panels = [field03, field14, field22];

        const svg = d3.select('svg');

        const margin = { top: 43, left: 101 };
        const panelWidth = 342;
        const panelHeight = 357;

        const xScale = d3.scaleLinear()
            .domain([18.1, 23.9])
            .range([0, panelWidth]);

        const yScale = d3.scaleLinear()
            .domain([-1.2, 1.2])
            .range([panelHeight, 0]);

        // minor ticks every 0.1
        const xMinor = d3.range(182, 239).map(v => v / 10).filter(v => xTickValues.indexOf(v) < 0);
        const yMinor = d3.range(-11, 12).map(v => v / 10).filter(v => v % 0.5 !== 0);

        const addAxis = (g, axisFn, values, size, tx, ty) => {
            const a = g.append('g')
                .attr('transform', `translate(${tx},${ty})`)
                .call(axisFn.tickValues(values).tickSize(size).tickSizeOuter(0).tickFormat(''));
            a.select('.domain').remove();
            return a;
        };

        panels.forEach((data, i) => {
            const g = svg.append('g')
                .attr('transform', `translate(${margin.left + i * panelWidth},${margin.top})`);

            // points
            g.selectAll('rect.pt').data(data)
                .enter().append('rect')
                .attr('class', 'pt')
                .attr('x', d => xScale(d[0]) - 1.3)
                .attr('y', d => yScale(d[1]) - 1.3)
                .attr('width', 2.6)
                .attr('height', 2.6)
                .attr('fill', 'black');

            // reference lines
            g.append('line')
                .attr('x1', 0).attr('x2', panelWidth)
                .attr('y1', yScale(zeroLevel)).attr('y2', yScale(zeroLevel))
                .attr('stroke', '#0000dd')
                .attr('stroke-width', 1.2);

            g.append('line')
                .attr('x1', 0).attr('x2', panelWidth)
                .attr('y1', yScale(offsetLevel)).attr('y2', yScale(offsetLevel))
                .attr('stroke', '#ff0000')
                .attr('stroke-width', 1.2);

            // bottom axis with labels
            const xAxisG = g.append('g')
                .attr('transform', `translate(0,${panelHeight})`)
                .call(d3.axisBottom(xScale)
                    .tickValues(xTickValues)
                    .tickSize(-8)
                    .tickSizeOuter(0)
                    .tickPadding(14)
                    .tickFormat(d3.format('d')));
            xAxisG.select('.domain').remove();

            addAxis(g, d3.axisBottom(xScale), xMinor, -4, 0, panelHeight);
            addAxis(g, d3.axisTop(xScale), xTickValues, -8, 0, 0);
            addAxis(g, d3.axisTop(xScale), xMinor, -4, 0, 0);

            // y axis: labels on first panel only, inner ticks on the others
            if (i === 0) {
                const yAxisG = g.append('g')
                    .call(d3.axisLeft(yScale)
                        .tickValues(yTickValues)
                        .tickSize(0)
                        .tickSizeOuter(0)
                        .tickPadding(7)
                        .tickFormat(d3.format('.1f')));
                yAxisG.select('.domain').remove();
            } else {
                addAxis(g, d3.axisLeft(yScale), yTickValues, -7, 0, 0);
                addAxis(g, d3.axisLeft(yScale), yMinor, -3.5, 0, 0);
            }
            addAxis(g, d3.axisRight(yScale), yTickValues, -7, panelWidth, 0);
            addAxis(g, d3.axisRight(yScale), yMinor, -3.5, panelWidth, 0);

            // frame
            g.append('rect')
                .attr('width', panelWidth)
                .attr('height', panelHeight)
                .attr('fill', 'none')
                .attr('stroke', 'black')
                .attr('stroke-width', 1.6);

            // title
            g.append('text')
                .attr('class', 'title')
                .attr('x', panelWidth / 2)
                .attr('y', -13)
                .attr('text-anchor', 'middle')
                .text(fieldNames[i]);

            // x axis label
            const xl = g.append('text')
                .attr('class', 'axis-label')
                .attr('x', panelWidth / 2)
                .attr('y', panelHeight + 59)
                .attr('text-anchor', 'middle')
                .text('CFRS 3" I');
            xl.append('tspan')
                .attr('font-size', '17px')
                .attr('dy', 6)
                .text('AB');
        });

        // y axis label
        const yl = svg.append('text')
            .attr('class', 'axis-label')
            .attr('transform', `translate(32,${margin.top + panelHeight / 2}) rotate(-90)`)
            .attr('text-anchor', 'middle')
            .text('(CFDF\u2212CFRS) 3" I');
        yl.append('tspan')
            .attr('font-size', '17px')
            .attr('dy', 6)
            .text('AB');
    </script>
  </body>
</html>
